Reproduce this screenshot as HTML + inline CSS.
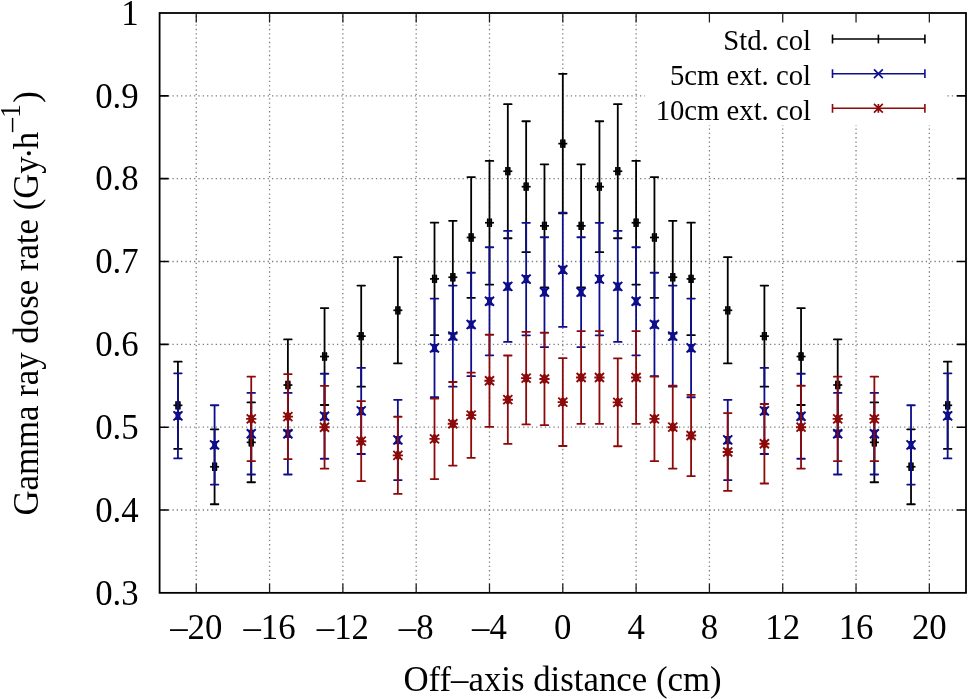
<!DOCTYPE html><html><head><meta charset="utf-8"><style>html,body{margin:0;padding:0;background:#fff;}svg{display:block;will-change:transform;}text{font-family:"Liberation Serif",serif;}</style></head><body>
<svg width="968" height="699" viewBox="0 0 968 699">
<rect x="0" y="0" width="968" height="699" fill="#fff"/>
<g stroke="#7c7c7c" stroke-width="1.3" stroke-dasharray="1.3 3.03" fill="none">
<line x1="159.4" y1="510.01" x2="966" y2="510.01"/>
<line x1="159.4" y1="427.18" x2="966" y2="427.18"/>
<line x1="159.4" y1="344.34" x2="966" y2="344.34"/>
<line x1="159.4" y1="261.51" x2="966" y2="261.51"/>
<line x1="159.4" y1="178.67" x2="966" y2="178.67"/>
<line x1="159.4" y1="95.84" x2="966" y2="95.84"/>
<line x1="196.25" y1="593.05" x2="196.25" y2="13"/>
<line x1="269.56" y1="593.05" x2="269.56" y2="13"/>
<line x1="342.87" y1="593.05" x2="342.87" y2="13"/>
<line x1="416.18" y1="593.05" x2="416.18" y2="13"/>
<line x1="489.49" y1="593.05" x2="489.49" y2="13"/>
<line x1="562.8" y1="593.05" x2="562.8" y2="13"/>
<line x1="636.11" y1="593.05" x2="636.11" y2="13"/>
<line x1="709.42" y1="593.05" x2="709.42" y2="13"/>
<line x1="782.73" y1="593.05" x2="782.73" y2="13"/>
<line x1="856.04" y1="593.05" x2="856.04" y2="13"/>
<line x1="929.35" y1="593.05" x2="929.35" y2="13"/>
</g>
<path d="M177.93 361.71V448.91M174.13 361.71H181.73M174.13 448.91H181.73" stroke="#000000" stroke-width="1.8" stroke-linecap="round" fill="none"/><path d="M214.58 429.32V504.23M210.78 429.32H218.38M210.78 504.23H218.38" stroke="#000000" stroke-width="1.8" stroke-linecap="round" fill="none"/><path d="M251.24 402.44V482.24M247.44 402.44H255.04M247.44 482.24H255.04" stroke="#000000" stroke-width="1.8" stroke-linecap="round" fill="none"/><path d="M287.89 339.38V430.65M284.09 339.38H291.69M284.09 430.65H291.69" stroke="#000000" stroke-width="1.8" stroke-linecap="round" fill="none"/><path d="M324.55 308.04V405M320.75 308.04H328.35M320.75 405H328.35" stroke="#000000" stroke-width="1.8" stroke-linecap="round" fill="none"/><path d="M361.2 285.62V386.66M357.4 285.62H365M357.4 386.66H365" stroke="#000000" stroke-width="1.8" stroke-linecap="round" fill="none"/><path d="M397.85 257.19V363.4M394.05 257.19H401.65M394.05 363.4H401.65" stroke="#000000" stroke-width="1.8" stroke-linecap="round" fill="none"/><path d="M434.51 222.66V335.15M430.71 222.66H438.31M430.71 335.15H438.31" stroke="#000000" stroke-width="1.8" stroke-linecap="round" fill="none"/><path d="M452.84 220.83V333.66M449.04 220.83H456.64M449.04 333.66H456.64" stroke="#000000" stroke-width="1.8" stroke-linecap="round" fill="none"/><path d="M471.16 177.1V297.87M467.36 177.1H474.96M467.36 297.87H474.96" stroke="#000000" stroke-width="1.8" stroke-linecap="round" fill="none"/><path d="M489.49 160.88V284.6M485.69 160.88H493.29M485.69 284.6H493.29" stroke="#000000" stroke-width="1.8" stroke-linecap="round" fill="none"/><path d="M507.82 104.2V238.23M504.02 104.2H511.62M504.02 238.23H511.62" stroke="#000000" stroke-width="1.8" stroke-linecap="round" fill="none"/><path d="M526.15 121.24V252.17M522.35 121.24H529.95M522.35 252.17H529.95" stroke="#000000" stroke-width="1.8" stroke-linecap="round" fill="none"/><path d="M544.47 164.34V287.43M540.67 164.34H548.27M540.67 287.43H548.27" stroke="#000000" stroke-width="1.8" stroke-linecap="round" fill="none"/><path d="M562.8 73.86V213.4M559 73.86H566.6M559 213.4H566.6" stroke="#000000" stroke-width="1.8" stroke-linecap="round" fill="none"/><path d="M581.13 164.34V287.43M577.33 164.34H584.93M577.33 287.43H584.93" stroke="#000000" stroke-width="1.8" stroke-linecap="round" fill="none"/><path d="M599.45 121.24V252.17M595.65 121.24H603.25M595.65 252.17H603.25" stroke="#000000" stroke-width="1.8" stroke-linecap="round" fill="none"/><path d="M617.78 104.2V238.23M613.98 104.2H621.58M613.98 238.23H621.58" stroke="#000000" stroke-width="1.8" stroke-linecap="round" fill="none"/><path d="M636.11 160.88V284.6M632.31 160.88H639.91M632.31 284.6H639.91" stroke="#000000" stroke-width="1.8" stroke-linecap="round" fill="none"/><path d="M654.44 177.1V297.87M650.64 177.1H658.24M650.64 297.87H658.24" stroke="#000000" stroke-width="1.8" stroke-linecap="round" fill="none"/><path d="M672.76 220.83V333.66M668.96 220.83H676.56M668.96 333.66H676.56" stroke="#000000" stroke-width="1.8" stroke-linecap="round" fill="none"/><path d="M691.09 222.66V335.15M687.29 222.66H694.89M687.29 335.15H694.89" stroke="#000000" stroke-width="1.8" stroke-linecap="round" fill="none"/><path d="M727.75 257.19V363.4M723.95 257.19H731.55M723.95 363.4H731.55" stroke="#000000" stroke-width="1.8" stroke-linecap="round" fill="none"/><path d="M764.4 285.62V386.66M760.6 285.62H768.2M760.6 386.66H768.2" stroke="#000000" stroke-width="1.8" stroke-linecap="round" fill="none"/><path d="M801.05 308.04V405M797.25 308.04H804.85M797.25 405H804.85" stroke="#000000" stroke-width="1.8" stroke-linecap="round" fill="none"/><path d="M837.71 339.38V430.65M833.91 339.38H841.51M833.91 430.65H841.51" stroke="#000000" stroke-width="1.8" stroke-linecap="round" fill="none"/><path d="M874.36 402.44V482.24M870.56 402.44H878.16M870.56 482.24H878.16" stroke="#000000" stroke-width="1.8" stroke-linecap="round" fill="none"/><path d="M911.02 429.32V504.23M907.22 429.32H914.82M907.22 504.23H914.82" stroke="#000000" stroke-width="1.8" stroke-linecap="round" fill="none"/><path d="M947.67 361.71V448.91M943.87 361.71H951.47M943.87 448.91H951.47" stroke="#000000" stroke-width="1.8" stroke-linecap="round" fill="none"/><rect x="175.33" y="401.16" width="5.2" height="8.3" rx="0.9" fill="#000000" fill-opacity="0.8"/><path d="M173.43 405.31H182.43" stroke="#000000" stroke-width="1.7" fill="none"/><path d="M176.03 401.16V409.46" stroke="#000000" stroke-width="1.3" fill="none"/><path d="M179.83 401.16V409.46" stroke="#000000" stroke-width="1.3" fill="none"/><rect x="211.98" y="462.62" width="5.2" height="8.3" rx="0.9" fill="#000000" fill-opacity="0.8"/><path d="M210.08 466.77H219.08" stroke="#000000" stroke-width="1.7" fill="none"/><path d="M212.68 462.62V470.92" stroke="#000000" stroke-width="1.3" fill="none"/><path d="M216.48 462.62V470.92" stroke="#000000" stroke-width="1.3" fill="none"/><rect x="248.64" y="438.19" width="5.2" height="8.3" rx="0.9" fill="#000000" fill-opacity="0.8"/><path d="M246.74 442.34H255.74" stroke="#000000" stroke-width="1.7" fill="none"/><path d="M249.34 438.19V446.49" stroke="#000000" stroke-width="1.3" fill="none"/><path d="M253.14 438.19V446.49" stroke="#000000" stroke-width="1.3" fill="none"/><rect x="285.29" y="380.87" width="5.2" height="8.3" rx="0.9" fill="#000000" fill-opacity="0.8"/><path d="M283.39 385.02H292.39" stroke="#000000" stroke-width="1.7" fill="none"/><path d="M285.99 380.87V389.17" stroke="#000000" stroke-width="1.3" fill="none"/><path d="M289.79 380.87V389.17" stroke="#000000" stroke-width="1.3" fill="none"/><rect x="321.95" y="352.37" width="5.2" height="8.3" rx="0.9" fill="#000000" fill-opacity="0.8"/><path d="M320.05 356.52H329.05" stroke="#000000" stroke-width="1.7" fill="none"/><path d="M322.65 352.37V360.67" stroke="#000000" stroke-width="1.3" fill="none"/><path d="M326.45 352.37V360.67" stroke="#000000" stroke-width="1.3" fill="none"/><rect x="358.6" y="331.99" width="5.2" height="8.3" rx="0.9" fill="#000000" fill-opacity="0.8"/><path d="M356.7 336.14H365.7" stroke="#000000" stroke-width="1.7" fill="none"/><path d="M359.3 331.99V340.29" stroke="#000000" stroke-width="1.3" fill="none"/><path d="M363.1 331.99V340.29" stroke="#000000" stroke-width="1.3" fill="none"/><rect x="395.25" y="306.15" width="5.2" height="8.3" rx="0.9" fill="#000000" fill-opacity="0.8"/><path d="M393.35 310.3H402.35" stroke="#000000" stroke-width="1.7" fill="none"/><path d="M395.95 306.15V314.45" stroke="#000000" stroke-width="1.3" fill="none"/><path d="M399.75 306.15V314.45" stroke="#000000" stroke-width="1.3" fill="none"/><rect x="431.91" y="274.75" width="5.2" height="8.3" rx="0.9" fill="#000000" fill-opacity="0.8"/><path d="M430.01 278.9H439.01" stroke="#000000" stroke-width="1.7" fill="none"/><path d="M432.61 274.75V283.05" stroke="#000000" stroke-width="1.3" fill="none"/><path d="M436.41 274.75V283.05" stroke="#000000" stroke-width="1.3" fill="none"/><rect x="450.24" y="273.1" width="5.2" height="8.3" rx="0.9" fill="#000000" fill-opacity="0.8"/><path d="M448.34 277.25H457.34" stroke="#000000" stroke-width="1.7" fill="none"/><path d="M450.94 273.1V281.4" stroke="#000000" stroke-width="1.3" fill="none"/><path d="M454.74 273.1V281.4" stroke="#000000" stroke-width="1.3" fill="none"/><rect x="468.56" y="233.33" width="5.2" height="8.3" rx="0.9" fill="#000000" fill-opacity="0.8"/><path d="M466.66 237.48H475.66" stroke="#000000" stroke-width="1.7" fill="none"/><path d="M469.26 233.33V241.63" stroke="#000000" stroke-width="1.3" fill="none"/><path d="M473.06 233.33V241.63" stroke="#000000" stroke-width="1.3" fill="none"/><rect x="486.89" y="218.59" width="5.2" height="8.3" rx="0.9" fill="#000000" fill-opacity="0.8"/><path d="M484.99 222.74H493.99" stroke="#000000" stroke-width="1.7" fill="none"/><path d="M487.59 218.59V226.89" stroke="#000000" stroke-width="1.3" fill="none"/><path d="M491.39 218.59V226.89" stroke="#000000" stroke-width="1.3" fill="none"/><rect x="505.22" y="167.07" width="5.2" height="8.3" rx="0.9" fill="#000000" fill-opacity="0.8"/><path d="M503.32 171.22H512.32" stroke="#000000" stroke-width="1.7" fill="none"/><path d="M505.92 167.07V175.37" stroke="#000000" stroke-width="1.3" fill="none"/><path d="M509.72 167.07V175.37" stroke="#000000" stroke-width="1.3" fill="none"/><rect x="523.55" y="182.56" width="5.2" height="8.3" rx="0.9" fill="#000000" fill-opacity="0.8"/><path d="M521.65 186.71H530.65" stroke="#000000" stroke-width="1.7" fill="none"/><path d="M524.25 182.56V190.86" stroke="#000000" stroke-width="1.3" fill="none"/><path d="M528.05 182.56V190.86" stroke="#000000" stroke-width="1.3" fill="none"/><rect x="541.87" y="221.74" width="5.2" height="8.3" rx="0.9" fill="#000000" fill-opacity="0.8"/><path d="M539.97 225.89H548.97" stroke="#000000" stroke-width="1.7" fill="none"/><path d="M542.57 221.74V230.04" stroke="#000000" stroke-width="1.3" fill="none"/><path d="M546.37 221.74V230.04" stroke="#000000" stroke-width="1.3" fill="none"/><rect x="560.2" y="139.48" width="5.2" height="8.3" rx="0.9" fill="#000000" fill-opacity="0.8"/><path d="M558.3 143.63H567.3" stroke="#000000" stroke-width="1.7" fill="none"/><path d="M560.9 139.48V147.78" stroke="#000000" stroke-width="1.3" fill="none"/><path d="M564.7 139.48V147.78" stroke="#000000" stroke-width="1.3" fill="none"/><rect x="578.53" y="221.74" width="5.2" height="8.3" rx="0.9" fill="#000000" fill-opacity="0.8"/><path d="M576.63 225.89H585.63" stroke="#000000" stroke-width="1.7" fill="none"/><path d="M579.23 221.74V230.04" stroke="#000000" stroke-width="1.3" fill="none"/><path d="M583.03 221.74V230.04" stroke="#000000" stroke-width="1.3" fill="none"/><rect x="596.85" y="182.56" width="5.2" height="8.3" rx="0.9" fill="#000000" fill-opacity="0.8"/><path d="M594.95 186.71H603.95" stroke="#000000" stroke-width="1.7" fill="none"/><path d="M597.55 182.56V190.86" stroke="#000000" stroke-width="1.3" fill="none"/><path d="M601.35 182.56V190.86" stroke="#000000" stroke-width="1.3" fill="none"/><rect x="615.18" y="167.07" width="5.2" height="8.3" rx="0.9" fill="#000000" fill-opacity="0.8"/><path d="M613.28 171.22H622.28" stroke="#000000" stroke-width="1.7" fill="none"/><path d="M615.88 167.07V175.37" stroke="#000000" stroke-width="1.3" fill="none"/><path d="M619.68 167.07V175.37" stroke="#000000" stroke-width="1.3" fill="none"/><rect x="633.51" y="218.59" width="5.2" height="8.3" rx="0.9" fill="#000000" fill-opacity="0.8"/><path d="M631.61 222.74H640.61" stroke="#000000" stroke-width="1.7" fill="none"/><path d="M634.21 218.59V226.89" stroke="#000000" stroke-width="1.3" fill="none"/><path d="M638.01 218.59V226.89" stroke="#000000" stroke-width="1.3" fill="none"/><rect x="651.84" y="233.33" width="5.2" height="8.3" rx="0.9" fill="#000000" fill-opacity="0.8"/><path d="M649.94 237.48H658.94" stroke="#000000" stroke-width="1.7" fill="none"/><path d="M652.54 233.33V241.63" stroke="#000000" stroke-width="1.3" fill="none"/><path d="M656.34 233.33V241.63" stroke="#000000" stroke-width="1.3" fill="none"/><rect x="670.16" y="273.1" width="5.2" height="8.3" rx="0.9" fill="#000000" fill-opacity="0.8"/><path d="M668.26 277.25H677.26" stroke="#000000" stroke-width="1.7" fill="none"/><path d="M670.86 273.1V281.4" stroke="#000000" stroke-width="1.3" fill="none"/><path d="M674.66 273.1V281.4" stroke="#000000" stroke-width="1.3" fill="none"/><rect x="688.49" y="274.75" width="5.2" height="8.3" rx="0.9" fill="#000000" fill-opacity="0.8"/><path d="M686.59 278.9H695.59" stroke="#000000" stroke-width="1.7" fill="none"/><path d="M689.19 274.75V283.05" stroke="#000000" stroke-width="1.3" fill="none"/><path d="M692.99 274.75V283.05" stroke="#000000" stroke-width="1.3" fill="none"/><rect x="725.15" y="306.15" width="5.2" height="8.3" rx="0.9" fill="#000000" fill-opacity="0.8"/><path d="M723.25 310.3H732.25" stroke="#000000" stroke-width="1.7" fill="none"/><path d="M725.85 306.15V314.45" stroke="#000000" stroke-width="1.3" fill="none"/><path d="M729.65 306.15V314.45" stroke="#000000" stroke-width="1.3" fill="none"/><rect x="761.8" y="331.99" width="5.2" height="8.3" rx="0.9" fill="#000000" fill-opacity="0.8"/><path d="M759.9 336.14H768.9" stroke="#000000" stroke-width="1.7" fill="none"/><path d="M762.5 331.99V340.29" stroke="#000000" stroke-width="1.3" fill="none"/><path d="M766.3 331.99V340.29" stroke="#000000" stroke-width="1.3" fill="none"/><rect x="798.45" y="352.37" width="5.2" height="8.3" rx="0.9" fill="#000000" fill-opacity="0.8"/><path d="M796.55 356.52H805.55" stroke="#000000" stroke-width="1.7" fill="none"/><path d="M799.15 352.37V360.67" stroke="#000000" stroke-width="1.3" fill="none"/><path d="M802.95 352.37V360.67" stroke="#000000" stroke-width="1.3" fill="none"/><rect x="835.11" y="380.87" width="5.2" height="8.3" rx="0.9" fill="#000000" fill-opacity="0.8"/><path d="M833.21 385.02H842.21" stroke="#000000" stroke-width="1.7" fill="none"/><path d="M835.81 380.87V389.17" stroke="#000000" stroke-width="1.3" fill="none"/><path d="M839.61 380.87V389.17" stroke="#000000" stroke-width="1.3" fill="none"/><rect x="871.76" y="438.19" width="5.2" height="8.3" rx="0.9" fill="#000000" fill-opacity="0.8"/><path d="M869.86 442.34H878.86" stroke="#000000" stroke-width="1.7" fill="none"/><path d="M872.46 438.19V446.49" stroke="#000000" stroke-width="1.3" fill="none"/><path d="M876.26 438.19V446.49" stroke="#000000" stroke-width="1.3" fill="none"/><rect x="908.42" y="462.62" width="5.2" height="8.3" rx="0.9" fill="#000000" fill-opacity="0.8"/><path d="M906.52 466.77H915.52" stroke="#000000" stroke-width="1.7" fill="none"/><path d="M909.12 462.62V470.92" stroke="#000000" stroke-width="1.3" fill="none"/><path d="M912.92 462.62V470.92" stroke="#000000" stroke-width="1.3" fill="none"/><rect x="945.07" y="401.16" width="5.2" height="8.3" rx="0.9" fill="#000000" fill-opacity="0.8"/><path d="M943.17 405.31H952.17" stroke="#000000" stroke-width="1.7" fill="none"/><path d="M945.77 401.16V409.46" stroke="#000000" stroke-width="1.3" fill="none"/><path d="M949.57 401.16V409.46" stroke="#000000" stroke-width="1.3" fill="none"/>
<path d="M177.93 373.28V458.38M174.13 373.28H181.73M174.13 458.38H181.73" stroke="#0e0e8c" stroke-width="1.8" stroke-linecap="round" fill="none"/><path d="M214.58 405.26V484.55M210.78 405.26H218.38M210.78 484.55H218.38" stroke="#0e0e8c" stroke-width="1.8" stroke-linecap="round" fill="none"/><path d="M251.24 392.96V474.49M247.44 392.96H255.04M247.44 474.49H255.04" stroke="#0e0e8c" stroke-width="1.8" stroke-linecap="round" fill="none"/><path d="M287.89 392.96V474.49M284.09 392.96H291.69M284.09 474.49H291.69" stroke="#0e0e8c" stroke-width="1.8" stroke-linecap="round" fill="none"/><path d="M324.55 373.73V458.76M320.75 373.73H328.35M320.75 458.76H328.35" stroke="#0e0e8c" stroke-width="1.8" stroke-linecap="round" fill="none"/><path d="M361.2 367.9V453.98M357.4 367.9H365M357.4 453.98H365" stroke="#0e0e8c" stroke-width="1.8" stroke-linecap="round" fill="none"/><path d="M397.85 399.79V480.08M394.05 399.79H401.65M394.05 480.08H401.65" stroke="#0e0e8c" stroke-width="1.8" stroke-linecap="round" fill="none"/><path d="M434.51 298.56V397.25M430.71 298.56H438.31M430.71 397.25H438.31" stroke="#0e0e8c" stroke-width="1.8" stroke-linecap="round" fill="none"/><path d="M452.84 285.62V386.66M449.04 285.62H456.64M449.04 386.66H456.64" stroke="#0e0e8c" stroke-width="1.8" stroke-linecap="round" fill="none"/><path d="M471.16 272.77V376.15M467.36 272.77H474.96M467.36 376.15H474.96" stroke="#0e0e8c" stroke-width="1.8" stroke-linecap="round" fill="none"/><path d="M489.49 247.26V355.28M485.69 247.26H493.29M485.69 355.28H493.29" stroke="#0e0e8c" stroke-width="1.8" stroke-linecap="round" fill="none"/><path d="M507.82 230.95V341.93M504.02 230.95H511.62M504.02 341.93H511.62" stroke="#0e0e8c" stroke-width="1.8" stroke-linecap="round" fill="none"/><path d="M526.15 222.84V335.3M522.35 222.84H529.95M522.35 335.3H529.95" stroke="#0e0e8c" stroke-width="1.8" stroke-linecap="round" fill="none"/><path d="M544.47 237.24V347.08M540.67 237.24H548.27M540.67 347.08H548.27" stroke="#0e0e8c" stroke-width="1.8" stroke-linecap="round" fill="none"/><path d="M562.8 212.63V326.95M559 212.63H566.6M559 326.95H566.6" stroke="#0e0e8c" stroke-width="1.8" stroke-linecap="round" fill="none"/><path d="M581.13 237.24V347.08M577.33 237.24H584.93M577.33 347.08H584.93" stroke="#0e0e8c" stroke-width="1.8" stroke-linecap="round" fill="none"/><path d="M599.45 222.84V335.3M595.65 222.84H603.25M595.65 335.3H603.25" stroke="#0e0e8c" stroke-width="1.8" stroke-linecap="round" fill="none"/><path d="M617.78 230.95V341.93M613.98 230.95H621.58M613.98 341.93H621.58" stroke="#0e0e8c" stroke-width="1.8" stroke-linecap="round" fill="none"/><path d="M636.11 247.26V355.28M632.31 247.26H639.91M632.31 355.28H639.91" stroke="#0e0e8c" stroke-width="1.8" stroke-linecap="round" fill="none"/><path d="M654.44 272.77V376.15M650.64 272.77H658.24M650.64 376.15H658.24" stroke="#0e0e8c" stroke-width="1.8" stroke-linecap="round" fill="none"/><path d="M672.76 285.62V386.66M668.96 285.62H676.56M668.96 386.66H676.56" stroke="#0e0e8c" stroke-width="1.8" stroke-linecap="round" fill="none"/><path d="M691.09 298.56V397.25M687.29 298.56H694.89M687.29 397.25H694.89" stroke="#0e0e8c" stroke-width="1.8" stroke-linecap="round" fill="none"/><path d="M727.75 399.79V480.08M723.95 399.79H731.55M723.95 480.08H731.55" stroke="#0e0e8c" stroke-width="1.8" stroke-linecap="round" fill="none"/><path d="M764.4 367.9V453.98M760.6 367.9H768.2M760.6 453.98H768.2" stroke="#0e0e8c" stroke-width="1.8" stroke-linecap="round" fill="none"/><path d="M801.05 373.73V458.76M797.25 373.73H804.85M797.25 458.76H804.85" stroke="#0e0e8c" stroke-width="1.8" stroke-linecap="round" fill="none"/><path d="M837.71 392.96V474.49M833.91 392.96H841.51M833.91 474.49H841.51" stroke="#0e0e8c" stroke-width="1.8" stroke-linecap="round" fill="none"/><path d="M874.36 392.96V474.49M870.56 392.96H878.16M870.56 474.49H878.16" stroke="#0e0e8c" stroke-width="1.8" stroke-linecap="round" fill="none"/><path d="M911.02 405.26V484.55M907.22 405.26H914.82M907.22 484.55H914.82" stroke="#0e0e8c" stroke-width="1.8" stroke-linecap="round" fill="none"/><path d="M947.67 373.28V458.38M943.87 373.28H951.47M943.87 458.38H951.47" stroke="#0e0e8c" stroke-width="1.8" stroke-linecap="round" fill="none"/><path d="M173.43 411.33L182.43 420.33M173.43 420.33L182.43 411.33" stroke="#0e0e8c" stroke-width="1.9" fill="none"/><path d="M173.43 411.33Q177.93 412.33 182.43 411.33L177.93 415.83L182.43 420.33Q177.93 419.33 173.43 420.33L177.93 415.83Z" fill="#0e0e8c"/><ellipse cx="177.93" cy="415.83" rx="2.5" ry="4.0" fill="#0e0e8c"/><path d="M210.08 440.41L219.08 449.41M210.08 449.41L219.08 440.41" stroke="#0e0e8c" stroke-width="1.9" fill="none"/><path d="M210.08 440.41Q214.58 441.41 219.08 440.41L214.58 444.91L219.08 449.41Q214.58 448.41 210.08 449.41L214.58 444.91Z" fill="#0e0e8c"/><ellipse cx="214.58" cy="444.91" rx="2.5" ry="4.0" fill="#0e0e8c"/><path d="M246.74 429.22L255.74 438.22M246.74 438.22L255.74 429.22" stroke="#0e0e8c" stroke-width="1.9" fill="none"/><path d="M246.74 429.22Q251.24 430.22 255.74 429.22L251.24 433.72L255.74 438.22Q251.24 437.22 246.74 438.22L251.24 433.72Z" fill="#0e0e8c"/><ellipse cx="251.24" cy="433.72" rx="2.5" ry="4.0" fill="#0e0e8c"/><path d="M283.39 429.22L292.39 438.22M283.39 438.22L292.39 429.22" stroke="#0e0e8c" stroke-width="1.9" fill="none"/><path d="M283.39 429.22Q287.89 430.22 292.39 429.22L287.89 433.72L292.39 438.22Q287.89 437.22 283.39 438.22L287.89 433.72Z" fill="#0e0e8c"/><ellipse cx="287.89" cy="433.72" rx="2.5" ry="4.0" fill="#0e0e8c"/><path d="M320.05 411.74L329.05 420.74M320.05 420.74L329.05 411.74" stroke="#0e0e8c" stroke-width="1.9" fill="none"/><path d="M320.05 411.74Q324.55 412.74 329.05 411.74L324.55 416.24L329.05 420.74Q324.55 419.74 320.05 420.74L324.55 416.24Z" fill="#0e0e8c"/><ellipse cx="324.55" cy="416.24" rx="2.5" ry="4.0" fill="#0e0e8c"/><path d="M356.7 406.44L365.7 415.44M356.7 415.44L365.7 406.44" stroke="#0e0e8c" stroke-width="1.9" fill="none"/><path d="M356.7 406.44Q361.2 407.44 365.7 406.44L361.2 410.94L365.7 415.44Q361.2 414.44 356.7 415.44L361.2 410.94Z" fill="#0e0e8c"/><ellipse cx="361.2" cy="410.94" rx="2.5" ry="4.0" fill="#0e0e8c"/><path d="M393.35 435.44L402.35 444.44M393.35 444.44L402.35 435.44" stroke="#0e0e8c" stroke-width="1.9" fill="none"/><path d="M393.35 435.44Q397.85 436.44 402.35 435.44L397.85 439.94L402.35 444.44Q397.85 443.44 393.35 444.44L397.85 439.94Z" fill="#0e0e8c"/><ellipse cx="397.85" cy="439.94" rx="2.5" ry="4.0" fill="#0e0e8c"/><path d="M430.01 343.4L439.01 352.4M430.01 352.4L439.01 343.4" stroke="#0e0e8c" stroke-width="1.9" fill="none"/><path d="M430.01 343.4Q434.51 344.4 439.01 343.4L434.51 347.9L439.01 352.4Q434.51 351.4 430.01 352.4L434.51 347.9Z" fill="#0e0e8c"/><ellipse cx="434.51" cy="347.9" rx="2.5" ry="4.0" fill="#0e0e8c"/><path d="M448.34 331.64L457.34 340.64M448.34 340.64L457.34 331.64" stroke="#0e0e8c" stroke-width="1.9" fill="none"/><path d="M448.34 331.64Q452.84 332.64 457.34 331.64L452.84 336.14L457.34 340.64Q452.84 339.64 448.34 340.64L452.84 336.14Z" fill="#0e0e8c"/><ellipse cx="452.84" cy="336.14" rx="2.5" ry="4.0" fill="#0e0e8c"/><path d="M466.66 319.96L475.66 328.96M466.66 328.96L475.66 319.96" stroke="#0e0e8c" stroke-width="1.9" fill="none"/><path d="M466.66 319.96Q471.16 320.96 475.66 319.96L471.16 324.46L475.66 328.96Q471.16 327.96 466.66 328.96L471.16 324.46Z" fill="#0e0e8c"/><ellipse cx="471.16" cy="324.46" rx="2.5" ry="4.0" fill="#0e0e8c"/><path d="M484.99 296.77L493.99 305.77M484.99 305.77L493.99 296.77" stroke="#0e0e8c" stroke-width="1.9" fill="none"/><path d="M484.99 296.77Q489.49 297.77 493.99 296.77L489.49 301.27L493.99 305.77Q489.49 304.77 484.99 305.77L489.49 301.27Z" fill="#0e0e8c"/><ellipse cx="489.49" cy="301.27" rx="2.5" ry="4.0" fill="#0e0e8c"/><path d="M503.32 281.94L512.32 290.94M503.32 290.94L512.32 281.94" stroke="#0e0e8c" stroke-width="1.9" fill="none"/><path d="M503.32 281.94Q507.82 282.94 512.32 281.94L507.82 286.44L512.32 290.94Q507.82 289.94 503.32 290.94L507.82 286.44Z" fill="#0e0e8c"/><ellipse cx="507.82" cy="286.44" rx="2.5" ry="4.0" fill="#0e0e8c"/><path d="M521.65 274.57L530.65 283.57M521.65 283.57L530.65 274.57" stroke="#0e0e8c" stroke-width="1.9" fill="none"/><path d="M521.65 274.57Q526.15 275.57 530.65 274.57L526.15 279.07L530.65 283.57Q526.15 282.57 521.65 283.57L526.15 279.07Z" fill="#0e0e8c"/><ellipse cx="526.15" cy="279.07" rx="2.5" ry="4.0" fill="#0e0e8c"/><path d="M539.97 287.66L548.97 296.66M539.97 296.66L548.97 287.66" stroke="#0e0e8c" stroke-width="1.9" fill="none"/><path d="M539.97 287.66Q544.47 288.66 548.97 287.66L544.47 292.16L548.97 296.66Q544.47 295.66 539.97 296.66L544.47 292.16Z" fill="#0e0e8c"/><ellipse cx="544.47" cy="292.16" rx="2.5" ry="4.0" fill="#0e0e8c"/><path d="M558.3 265.29L567.3 274.29M558.3 274.29L567.3 265.29" stroke="#0e0e8c" stroke-width="1.9" fill="none"/><path d="M558.3 265.29Q562.8 266.29 567.3 265.29L562.8 269.79L567.3 274.29Q562.8 273.29 558.3 274.29L562.8 269.79Z" fill="#0e0e8c"/><ellipse cx="562.8" cy="269.79" rx="2.5" ry="4.0" fill="#0e0e8c"/><path d="M576.63 287.66L585.63 296.66M576.63 296.66L585.63 287.66" stroke="#0e0e8c" stroke-width="1.9" fill="none"/><path d="M576.63 287.66Q581.13 288.66 585.63 287.66L581.13 292.16L585.63 296.66Q581.13 295.66 576.63 296.66L581.13 292.16Z" fill="#0e0e8c"/><ellipse cx="581.13" cy="292.16" rx="2.5" ry="4.0" fill="#0e0e8c"/><path d="M594.95 274.57L603.95 283.57M594.95 283.57L603.95 274.57" stroke="#0e0e8c" stroke-width="1.9" fill="none"/><path d="M594.95 274.57Q599.45 275.57 603.95 274.57L599.45 279.07L603.95 283.57Q599.45 282.57 594.95 283.57L599.45 279.07Z" fill="#0e0e8c"/><ellipse cx="599.45" cy="279.07" rx="2.5" ry="4.0" fill="#0e0e8c"/><path d="M613.28 281.94L622.28 290.94M613.28 290.94L622.28 281.94" stroke="#0e0e8c" stroke-width="1.9" fill="none"/><path d="M613.28 281.94Q617.78 282.94 622.28 281.94L617.78 286.44L622.28 290.94Q617.78 289.94 613.28 290.94L617.78 286.44Z" fill="#0e0e8c"/><ellipse cx="617.78" cy="286.44" rx="2.5" ry="4.0" fill="#0e0e8c"/><path d="M631.61 296.77L640.61 305.77M631.61 305.77L640.61 296.77" stroke="#0e0e8c" stroke-width="1.9" fill="none"/><path d="M631.61 296.77Q636.11 297.77 640.61 296.77L636.11 301.27L640.61 305.77Q636.11 304.77 631.61 305.77L636.11 301.27Z" fill="#0e0e8c"/><ellipse cx="636.11" cy="301.27" rx="2.5" ry="4.0" fill="#0e0e8c"/><path d="M649.94 319.96L658.94 328.96M649.94 328.96L658.94 319.96" stroke="#0e0e8c" stroke-width="1.9" fill="none"/><path d="M649.94 319.96Q654.44 320.96 658.94 319.96L654.44 324.46L658.94 328.96Q654.44 327.96 649.94 328.96L654.44 324.46Z" fill="#0e0e8c"/><ellipse cx="654.44" cy="324.46" rx="2.5" ry="4.0" fill="#0e0e8c"/><path d="M668.26 331.64L677.26 340.64M668.26 340.64L677.26 331.64" stroke="#0e0e8c" stroke-width="1.9" fill="none"/><path d="M668.26 331.64Q672.76 332.64 677.26 331.64L672.76 336.14L677.26 340.64Q672.76 339.64 668.26 340.64L672.76 336.14Z" fill="#0e0e8c"/><ellipse cx="672.76" cy="336.14" rx="2.5" ry="4.0" fill="#0e0e8c"/><path d="M686.59 343.4L695.59 352.4M686.59 352.4L695.59 343.4" stroke="#0e0e8c" stroke-width="1.9" fill="none"/><path d="M686.59 343.4Q691.09 344.4 695.59 343.4L691.09 347.9L695.59 352.4Q691.09 351.4 686.59 352.4L691.09 347.9Z" fill="#0e0e8c"/><ellipse cx="691.09" cy="347.9" rx="2.5" ry="4.0" fill="#0e0e8c"/><path d="M723.25 435.44L732.25 444.44M723.25 444.44L732.25 435.44" stroke="#0e0e8c" stroke-width="1.9" fill="none"/><path d="M723.25 435.44Q727.75 436.44 732.25 435.44L727.75 439.94L732.25 444.44Q727.75 443.44 723.25 444.44L727.75 439.94Z" fill="#0e0e8c"/><ellipse cx="727.75" cy="439.94" rx="2.5" ry="4.0" fill="#0e0e8c"/><path d="M759.9 406.44L768.9 415.44M759.9 415.44L768.9 406.44" stroke="#0e0e8c" stroke-width="1.9" fill="none"/><path d="M759.9 406.44Q764.4 407.44 768.9 406.44L764.4 410.94L768.9 415.44Q764.4 414.44 759.9 415.44L764.4 410.94Z" fill="#0e0e8c"/><ellipse cx="764.4" cy="410.94" rx="2.5" ry="4.0" fill="#0e0e8c"/><path d="M796.55 411.74L805.55 420.74M796.55 420.74L805.55 411.74" stroke="#0e0e8c" stroke-width="1.9" fill="none"/><path d="M796.55 411.74Q801.05 412.74 805.55 411.74L801.05 416.24L805.55 420.74Q801.05 419.74 796.55 420.74L801.05 416.24Z" fill="#0e0e8c"/><ellipse cx="801.05" cy="416.24" rx="2.5" ry="4.0" fill="#0e0e8c"/><path d="M833.21 429.22L842.21 438.22M833.21 438.22L842.21 429.22" stroke="#0e0e8c" stroke-width="1.9" fill="none"/><path d="M833.21 429.22Q837.71 430.22 842.21 429.22L837.71 433.72L842.21 438.22Q837.71 437.22 833.21 438.22L837.71 433.72Z" fill="#0e0e8c"/><ellipse cx="837.71" cy="433.72" rx="2.5" ry="4.0" fill="#0e0e8c"/><path d="M869.86 429.22L878.86 438.22M869.86 438.22L878.86 429.22" stroke="#0e0e8c" stroke-width="1.9" fill="none"/><path d="M869.86 429.22Q874.36 430.22 878.86 429.22L874.36 433.72L878.86 438.22Q874.36 437.22 869.86 438.22L874.36 433.72Z" fill="#0e0e8c"/><ellipse cx="874.36" cy="433.72" rx="2.5" ry="4.0" fill="#0e0e8c"/><path d="M906.52 440.41L915.52 449.41M906.52 449.41L915.52 440.41" stroke="#0e0e8c" stroke-width="1.9" fill="none"/><path d="M906.52 440.41Q911.02 441.41 915.52 440.41L911.02 444.91L915.52 449.41Q911.02 448.41 906.52 449.41L911.02 444.91Z" fill="#0e0e8c"/><ellipse cx="911.02" cy="444.91" rx="2.5" ry="4.0" fill="#0e0e8c"/><path d="M943.17 411.33L952.17 420.33M943.17 420.33L952.17 411.33" stroke="#0e0e8c" stroke-width="1.9" fill="none"/><path d="M943.17 411.33Q947.67 412.33 952.17 411.33L947.67 415.83L952.17 420.33Q947.67 419.33 943.17 420.33L947.67 415.83Z" fill="#0e0e8c"/><ellipse cx="947.67" cy="415.83" rx="2.5" ry="4.0" fill="#0e0e8c"/>
<path d="M251.24 376.65V461.14M247.44 376.65H255.04M247.44 461.14H255.04" stroke="#8c0a0a" stroke-width="1.8" stroke-linecap="round" fill="none"/><path d="M287.89 374.1V459.05M284.09 374.1H291.69M284.09 459.05H291.69" stroke="#8c0a0a" stroke-width="1.8" stroke-linecap="round" fill="none"/><path d="M324.55 385.85V468.67M320.75 385.85H328.35M320.75 468.67H328.35" stroke="#8c0a0a" stroke-width="1.8" stroke-linecap="round" fill="none"/><path d="M361.2 401.16V481.2M357.4 401.16H365M357.4 481.2H365" stroke="#8c0a0a" stroke-width="1.8" stroke-linecap="round" fill="none"/><path d="M397.85 416.74V493.94M394.05 416.74H401.65M394.05 493.94H401.65" stroke="#8c0a0a" stroke-width="1.8" stroke-linecap="round" fill="none"/><path d="M434.51 398.61V479.11M430.71 398.61H438.31M430.71 479.11H438.31" stroke="#8c0a0a" stroke-width="1.8" stroke-linecap="round" fill="none"/><path d="M452.84 382.02V465.54M449.04 382.02H456.64M449.04 465.54H456.64" stroke="#8c0a0a" stroke-width="1.8" stroke-linecap="round" fill="none"/><path d="M471.16 372.55V457.79M467.36 372.55H474.96M467.36 457.79H474.96" stroke="#8c0a0a" stroke-width="1.8" stroke-linecap="round" fill="none"/><path d="M489.49 334.73V426.85M485.69 334.73H493.29M485.69 426.85H493.29" stroke="#8c0a0a" stroke-width="1.8" stroke-linecap="round" fill="none"/><path d="M507.82 355.51V443.85M504.02 355.51H511.62M504.02 443.85H511.62" stroke="#8c0a0a" stroke-width="1.8" stroke-linecap="round" fill="none"/><path d="M526.15 331.82V424.46M522.35 331.82H529.95M522.35 424.46H529.95" stroke="#8c0a0a" stroke-width="1.8" stroke-linecap="round" fill="none"/><path d="M544.47 332.73V425.21M540.67 332.73H548.27M540.67 425.21H548.27" stroke="#8c0a0a" stroke-width="1.8" stroke-linecap="round" fill="none"/><path d="M562.8 358.15V446.01M559 358.15H566.6M559 446.01H566.6" stroke="#8c0a0a" stroke-width="1.8" stroke-linecap="round" fill="none"/><path d="M581.13 331.09V423.87M577.33 331.09H584.93M577.33 423.87H584.93" stroke="#8c0a0a" stroke-width="1.8" stroke-linecap="round" fill="none"/><path d="M599.45 331.09V423.87M595.65 331.09H603.25M595.65 423.87H603.25" stroke="#8c0a0a" stroke-width="1.8" stroke-linecap="round" fill="none"/><path d="M617.78 358.42V446.23M613.98 358.42H621.58M613.98 446.23H621.58" stroke="#8c0a0a" stroke-width="1.8" stroke-linecap="round" fill="none"/><path d="M636.11 331.09V423.87M632.31 331.09H639.91M632.31 423.87H639.91" stroke="#8c0a0a" stroke-width="1.8" stroke-linecap="round" fill="none"/><path d="M654.44 376.65V461.14M650.64 376.65H658.24M650.64 461.14H658.24" stroke="#8c0a0a" stroke-width="1.8" stroke-linecap="round" fill="none"/><path d="M672.76 385.76V468.6M668.96 385.76H676.56M668.96 468.6H676.56" stroke="#8c0a0a" stroke-width="1.8" stroke-linecap="round" fill="none"/><path d="M691.09 394.87V476.05M687.29 394.87H694.89M687.29 476.05H694.89" stroke="#8c0a0a" stroke-width="1.8" stroke-linecap="round" fill="none"/><path d="M727.75 413.1V490.96M723.95 413.1H731.55M723.95 490.96H731.55" stroke="#8c0a0a" stroke-width="1.8" stroke-linecap="round" fill="none"/><path d="M764.4 403.98V483.51M760.6 403.98H768.2M760.6 483.51H768.2" stroke="#8c0a0a" stroke-width="1.8" stroke-linecap="round" fill="none"/><path d="M801.05 385.76V468.6M797.25 385.76H804.85M797.25 468.6H804.85" stroke="#8c0a0a" stroke-width="1.8" stroke-linecap="round" fill="none"/><path d="M837.71 376.65V461.14M833.91 376.65H841.51M833.91 461.14H841.51" stroke="#8c0a0a" stroke-width="1.8" stroke-linecap="round" fill="none"/><path d="M874.36 376.65V461.14M870.56 376.65H878.16M870.56 461.14H878.16" stroke="#8c0a0a" stroke-width="1.8" stroke-linecap="round" fill="none"/><path d="M246.74 414.39L255.74 423.39M246.74 423.39L255.74 414.39M246.14 418.89H256.34" stroke="#8c0a0a" stroke-width="1.9" fill="none"/><ellipse cx="251.24" cy="418.89" rx="2.8" ry="4.6" fill="#8c0a0a"/><path d="M283.39 412.08L292.39 421.08M283.39 421.08L292.39 412.08M282.79 416.58H292.99" stroke="#8c0a0a" stroke-width="1.9" fill="none"/><ellipse cx="287.89" cy="416.58" rx="2.8" ry="4.6" fill="#8c0a0a"/><path d="M320.05 422.76L329.05 431.76M320.05 431.76L329.05 422.76M319.45 427.26H329.65" stroke="#8c0a0a" stroke-width="1.9" fill="none"/><ellipse cx="324.55" cy="427.26" rx="2.8" ry="4.6" fill="#8c0a0a"/><path d="M356.7 436.68L365.7 445.68M356.7 445.68L365.7 436.68M356.1 441.18H366.3" stroke="#8c0a0a" stroke-width="1.9" fill="none"/><ellipse cx="361.2" cy="441.18" rx="2.8" ry="4.6" fill="#8c0a0a"/><path d="M393.35 450.84L402.35 459.84M393.35 459.84L402.35 450.84M392.75 455.34H402.95" stroke="#8c0a0a" stroke-width="1.9" fill="none"/><ellipse cx="397.85" cy="455.34" rx="2.8" ry="4.6" fill="#8c0a0a"/><path d="M430.01 434.36L439.01 443.36M430.01 443.36L439.01 434.36M429.41 438.86H439.61" stroke="#8c0a0a" stroke-width="1.9" fill="none"/><ellipse cx="434.51" cy="438.86" rx="2.8" ry="4.6" fill="#8c0a0a"/><path d="M448.34 419.28L457.34 428.28M448.34 428.28L457.34 419.28M447.74 423.78H457.94" stroke="#8c0a0a" stroke-width="1.9" fill="none"/><ellipse cx="452.84" cy="423.78" rx="2.8" ry="4.6" fill="#8c0a0a"/><path d="M466.66 410.67L475.66 419.67M466.66 419.67L475.66 410.67M466.06 415.17H476.26" stroke="#8c0a0a" stroke-width="1.9" fill="none"/><ellipse cx="471.16" cy="415.17" rx="2.8" ry="4.6" fill="#8c0a0a"/><path d="M484.99 376.29L493.99 385.29M484.99 385.29L493.99 376.29M484.39 380.79H494.59" stroke="#8c0a0a" stroke-width="1.9" fill="none"/><ellipse cx="489.49" cy="380.79" rx="2.8" ry="4.6" fill="#8c0a0a"/><path d="M503.32 395.18L512.32 404.18M503.32 404.18L512.32 395.18M502.72 399.68H512.92" stroke="#8c0a0a" stroke-width="1.9" fill="none"/><ellipse cx="507.82" cy="399.68" rx="2.8" ry="4.6" fill="#8c0a0a"/><path d="M521.65 373.64L530.65 382.64M521.65 382.64L530.65 373.64M521.05 378.14H531.25" stroke="#8c0a0a" stroke-width="1.9" fill="none"/><ellipse cx="526.15" cy="378.14" rx="2.8" ry="4.6" fill="#8c0a0a"/><path d="M539.97 374.47L548.97 383.47M539.97 383.47L548.97 374.47M539.37 378.97H549.57" stroke="#8c0a0a" stroke-width="1.9" fill="none"/><ellipse cx="544.47" cy="378.97" rx="2.8" ry="4.6" fill="#8c0a0a"/><path d="M558.3 397.58L567.3 406.58M558.3 406.58L567.3 397.58M557.7 402.08H567.9" stroke="#8c0a0a" stroke-width="1.9" fill="none"/><ellipse cx="562.8" cy="402.08" rx="2.8" ry="4.6" fill="#8c0a0a"/><path d="M576.63 372.98L585.63 381.98M576.63 381.98L585.63 372.98M576.03 377.48H586.23" stroke="#8c0a0a" stroke-width="1.9" fill="none"/><ellipse cx="581.13" cy="377.48" rx="2.8" ry="4.6" fill="#8c0a0a"/><path d="M594.95 372.98L603.95 381.98M594.95 381.98L603.95 372.98M594.35 377.48H604.55" stroke="#8c0a0a" stroke-width="1.9" fill="none"/><ellipse cx="599.45" cy="377.48" rx="2.8" ry="4.6" fill="#8c0a0a"/><path d="M613.28 397.83L622.28 406.83M613.28 406.83L622.28 397.83M612.68 402.33H622.88" stroke="#8c0a0a" stroke-width="1.9" fill="none"/><ellipse cx="617.78" cy="402.33" rx="2.8" ry="4.6" fill="#8c0a0a"/><path d="M631.61 372.98L640.61 381.98M631.61 381.98L640.61 372.98M631.01 377.48H641.21" stroke="#8c0a0a" stroke-width="1.9" fill="none"/><ellipse cx="636.11" cy="377.48" rx="2.8" ry="4.6" fill="#8c0a0a"/><path d="M649.94 414.39L658.94 423.39M649.94 423.39L658.94 414.39M649.34 418.89H659.54" stroke="#8c0a0a" stroke-width="1.9" fill="none"/><ellipse cx="654.44" cy="418.89" rx="2.8" ry="4.6" fill="#8c0a0a"/><path d="M668.26 422.68L677.26 431.68M668.26 431.68L677.26 422.68M667.66 427.18H677.86" stroke="#8c0a0a" stroke-width="1.9" fill="none"/><ellipse cx="672.76" cy="427.18" rx="2.8" ry="4.6" fill="#8c0a0a"/><path d="M686.59 430.96L695.59 439.96M686.59 439.96L695.59 430.96M685.99 435.46H696.19" stroke="#8c0a0a" stroke-width="1.9" fill="none"/><ellipse cx="691.09" cy="435.46" rx="2.8" ry="4.6" fill="#8c0a0a"/><path d="M723.25 447.53L732.25 456.53M723.25 456.53L732.25 447.53M722.65 452.03H732.85" stroke="#8c0a0a" stroke-width="1.9" fill="none"/><ellipse cx="727.75" cy="452.03" rx="2.8" ry="4.6" fill="#8c0a0a"/><path d="M759.9 439.25L768.9 448.25M759.9 448.25L768.9 439.25M759.3 443.75H769.5" stroke="#8c0a0a" stroke-width="1.9" fill="none"/><ellipse cx="764.4" cy="443.75" rx="2.8" ry="4.6" fill="#8c0a0a"/><path d="M796.55 422.68L805.55 431.68M796.55 431.68L805.55 422.68M795.95 427.18H806.15" stroke="#8c0a0a" stroke-width="1.9" fill="none"/><ellipse cx="801.05" cy="427.18" rx="2.8" ry="4.6" fill="#8c0a0a"/><path d="M833.21 414.39L842.21 423.39M833.21 423.39L842.21 414.39M832.61 418.89H842.81" stroke="#8c0a0a" stroke-width="1.9" fill="none"/><ellipse cx="837.71" cy="418.89" rx="2.8" ry="4.6" fill="#8c0a0a"/><path d="M869.86 414.39L878.86 423.39M869.86 423.39L878.86 414.39M869.26 418.89H879.46" stroke="#8c0a0a" stroke-width="1.9" fill="none"/><ellipse cx="874.36" cy="418.89" rx="2.8" ry="4.6" fill="#8c0a0a"/>
<rect x="645" y="14" width="300" height="111" fill="#fff"/>
<rect x="159.6" y="13" width="806.4" height="579.85" fill="none" stroke="#000" stroke-width="1.8"/>
<path d="M159.6 510.01H168.6M966 510.01H957M159.6 427.18H168.6M966 427.18H957M159.6 344.34H168.6M966 344.34H957M159.6 261.51H168.6M966 261.51H957M159.6 178.67H168.6M966 178.67H957M159.6 95.84H168.6M966 95.84H957" stroke="#000" stroke-width="1.6" fill="none"/>
<path d="M196.25 592.85V583.85M196.25 13V22.4M269.56 592.85V583.85M269.56 13V22.4M342.87 592.85V583.85M342.87 13V22.4M416.18 592.85V583.85M416.18 13V22.4M489.49 592.85V583.85M489.49 13V22.4M562.8 592.85V583.85M562.8 13V22.4M636.11 592.85V583.85M636.11 13V22.4M709.42 592.85V583.85M709.42 13V22.4M782.73 592.85V583.85M782.73 13V22.4M856.04 592.85V583.85M856.04 13V22.4M929.35 592.85V583.85M929.35 13V22.4" stroke="#1a1a1a" stroke-width="1.25" fill="none"/>
<text transform="translate(138.7 604.65) scale(1 1.05)" font-size="34.8" text-anchor="end">0.3</text>
<text transform="translate(138.7 521.81) scale(1 1.05)" font-size="34.8" text-anchor="end">0.4</text>
<text transform="translate(138.7 438.98) scale(1 1.05)" font-size="34.8" text-anchor="end">0.5</text>
<text transform="translate(138.7 356.14) scale(1 1.05)" font-size="34.8" text-anchor="end">0.6</text>
<text transform="translate(138.7 273.31) scale(1 1.05)" font-size="34.8" text-anchor="end">0.7</text>
<text transform="translate(138.7 190.47) scale(1 1.05)" font-size="34.8" text-anchor="end">0.8</text>
<text transform="translate(138.7 107.64) scale(1 1.05)" font-size="34.8" text-anchor="end">0.9</text>
<text transform="translate(138.7 24.8) scale(1 1.05)" font-size="34.8" text-anchor="end">1</text>
<text transform="translate(196.25 639.2) scale(1 1.05)" font-size="34.8" text-anchor="middle">–20</text>
<text transform="translate(269.56 639.2) scale(1 1.05)" font-size="34.8" text-anchor="middle">–16</text>
<text transform="translate(342.87 639.2) scale(1 1.05)" font-size="34.8" text-anchor="middle">–12</text>
<text transform="translate(416.18 639.2) scale(1 1.05)" font-size="34.8" text-anchor="middle">–8</text>
<text transform="translate(489.49 639.2) scale(1 1.05)" font-size="34.8" text-anchor="middle">–4</text>
<text transform="translate(562.8 639.2) scale(1 1.05)" font-size="34.8" text-anchor="middle">0</text>
<text transform="translate(636.11 639.2) scale(1 1.05)" font-size="34.8" text-anchor="middle">4</text>
<text transform="translate(709.42 639.2) scale(1 1.05)" font-size="34.8" text-anchor="middle">8</text>
<text transform="translate(782.73 639.2) scale(1 1.05)" font-size="34.8" text-anchor="middle">12</text>
<text transform="translate(856.04 639.2) scale(1 1.05)" font-size="34.8" text-anchor="middle">16</text>
<text transform="translate(929.35 639.2) scale(1 1.05)" font-size="34.8" text-anchor="middle">20</text>
<text transform="translate(562.5 691.4) scale(1 1.05)" font-size="34.8" text-anchor="middle">Off–axis distance (cm)</text>
<text transform="translate(37.8 515.6) rotate(-90) scale(1 1.05)" font-size="34.8">Gamma ray dose rate (Gy<tspan dx="-2.8" dy="3">·</tspan><tspan dx="-1.9" dy="-3">h</tspan><tspan font-size="27.8" dy="-17">–1</tspan><tspan dx="1.5" dy="17.0">)</tspan></text>
<text transform="translate(811 50.4) scale(1 1.05)" font-size="28.7" text-anchor="end">Std. col</text>
<path d="M832.5 39H924.9M832.5 34.6V43.4M924.9 34.6V43.4" stroke="#000000" stroke-width="1.6" fill="none"/>
<path d="M878.4 34.6V43.4" stroke="#000000" stroke-width="1.6"/>
<text transform="translate(811 85.1) scale(1 1.05)" font-size="28.7" text-anchor="end">5cm ext. col</text>
<path d="M832.5 73.7H924.9M832.5 69.3V78.1M924.9 69.3V78.1" stroke="#0e0e8c" stroke-width="1.6" fill="none"/>
<path d="M874 69.3L882.8 78.1M874 78.1L882.8 69.3" stroke="#0e0e8c" stroke-width="1.7" fill="none"/>
<text transform="translate(811 119.7) scale(1 1.05)" font-size="28.7" text-anchor="end">10cm ext. col</text>
<path d="M832.5 108.3H924.9M832.5 103.9V112.7M924.9 103.9V112.7" stroke="#8c0a0a" stroke-width="1.6" fill="none"/>
<path d="M874 103.9L882.8 112.7M874 112.7L882.8 103.9M878.4 103.9V112.7" stroke="#8c0a0a" stroke-width="1.7" fill="none"/>
</svg></body></html>
